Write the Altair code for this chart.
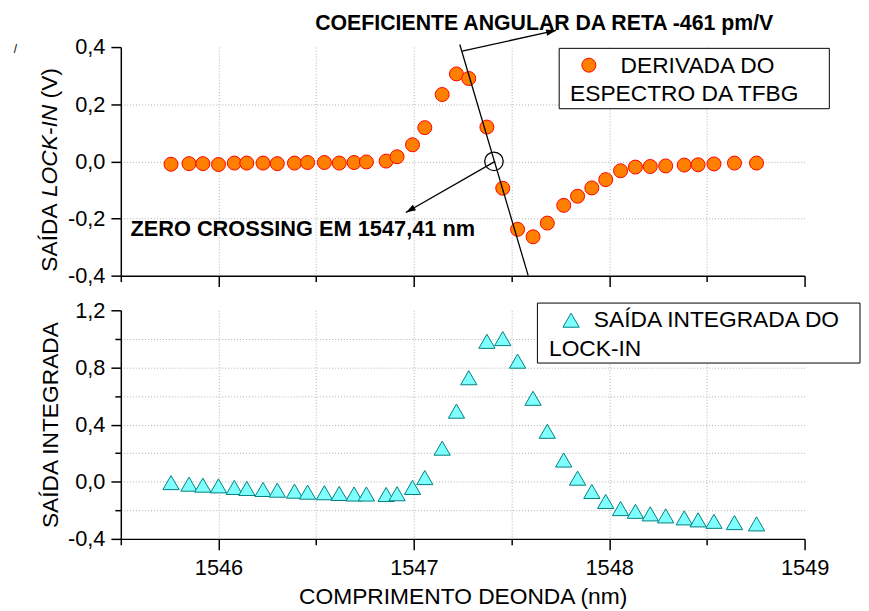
import altair as alt
import pandas as pd

FONT = "Liberation Sans"

# ---------------- data ----------------
wavelength_nm = [1545.757, 1545.849, 1545.920, 1546.000, 1546.081, 1546.145, 1546.228, 1546.301,
                 1546.389, 1546.456, 1546.542, 1546.618, 1546.694, 1546.757, 1546.858, 1546.914,
                 1546.993, 1547.056, 1547.145, 1547.218, 1547.281, 1547.374, 1547.455, 1547.531,
                 1547.610, 1547.683, 1547.767, 1547.838, 1547.911, 1547.982, 1548.058, 1548.134,
                 1548.210, 1548.289, 1548.384, 1548.455, 1548.536, 1548.641, 1548.754]
derivada_v = [-0.010, -0.008, -0.008, -0.011, -0.006, -0.006, -0.006, -0.008, -0.006, -0.004,
              -0.004, -0.006, -0.004, -0.002, 0.001, 0.016, 0.058, 0.118, 0.234, 0.306,
              0.290, 0.120, -0.094, -0.238, -0.264, -0.216, -0.154, -0.122, -0.093, -0.064,
              -0.033, -0.020, -0.018, -0.016, -0.013, -0.012, -0.009, -0.006, -0.006]
integrada = [-0.006, -0.017, -0.024, -0.029, -0.040, -0.047, -0.054, -0.059, -0.066, -0.073,
             -0.077, -0.082, -0.086, -0.086, -0.089, -0.084, -0.040, 0.029, 0.235, 0.494,
             0.728, 0.983, 1.002, 0.844, 0.584, 0.353, 0.152, 0.025, -0.068, -0.138,
             -0.188, -0.207, -0.225, -0.239, -0.253, -0.267, -0.277, -0.286, -0.295]

x_domain = [1545.5, 1549]
x_ticks = [1545.5, 1546, 1546.5, 1547, 1547.5, 1548, 1548.5, 1549]
y_domain_top = [-0.4, 0.4]
y_ticks_top = [-0.4, -0.3, -0.2, -0.1, 0.0, 0.1, 0.2, 0.3, 0.4]
y_domain_bottom = [-0.4, 1.2]
y_ticks_bottom = [-0.4, -0.2, 0.0, 0.2, 0.4, 0.6, 0.8, 1.0, 1.2]

# annotations (data coordinates)
zero_cross_nm = [1547.41]
zero_cross_v = [0.0]
tangent_nm = [1547.235, 1547.585]
tangent_v = [0.409, -0.399]
slope_arrow_nm = [1547.247, 1547.728]
slope_arrow_v = [0.386, 0.458]
zero_arrow_nm = [1547.416, 1546.959]
zero_arrow_v = [0.0, -0.179]
slope_label = "COEFICIENTE ANGULAR DA RETA -461 pm/V"
slope_label_pos = [1546.495, 0.461]
zero_label = "ZERO CROSSING EM 1547,41 nm"
zero_label_pos = [1545.549, -0.260]

legend_top_lines = ["DERIVADA DO", "ESPECTRO DA TFBG"]
legend_bottom_lines = ["SAÍDA INTEGRADA DO", "LOCK-IN"]
ytitle_top_parts = ["SAÍDA", "LOCK-IN", "(V)"]
x_title = "COMPRIMENTO DEONDA (nm)"
y_title_bottom = "SAÍDA INTEGRADA"

W, H = 691, 231
ARROW = "M0,0L-1,-0.32L-1,0.32Z"
one = pd.DataFrame({"k": [0]})

def fmt_expr(mod):
    return (f"abs(round(datum.value*10)) % {mod} == 0 ? "
            "(datum.value < -0.001 ? '-' : '') + replace(format(abs(datum.value), '.1f'), '.', ',') : ''")

x_scale = alt.Scale(domain=x_domain, nice=False, zero=False)

def x_axis(show_labels):
    kw = dict(values=x_ticks,
              tickSize={"condition": {"test": "datum.value % 1 == 0", "value": 11}, "value": 6},
              gridOpacity={"condition": {"test": "datum.value == 1545.5 || datum.value == 1549", "value": 0}, "value": 1},
              labelFlush=False, labelOverlap=False)
    if show_labels:
        return alt.Axis(labelExpr="datum.value % 1 == 0 ? format(datum.value, 'd') : ''",
                        title=x_title, labelPadding=8, titlePadding=7, **kw)
    return alt.Axis(labels=False, title=None, **kw)

# ---------------- top panel ----------------
df_top = pd.DataFrame({"nm": wavelength_nm, "v": derivada_v})
pts_top = alt.Chart(df_top).mark_point(shape="circle", filled=True, size=200, fill="#FF8000",
                                       stroke="#FF0000", strokeWidth=1, opacity=1).encode(
    x=alt.X("nm:Q", scale=x_scale, axis=x_axis(False)),
    y=alt.Y("v:Q", scale=alt.Scale(domain=y_domain_top, nice=False, zero=False),
            axis=alt.Axis(values=y_ticks_top, title=None, labelExpr=fmt_expr(2), labelPadding=6,
                          tickSize={"condition": {"test": "abs(round(datum.value*10)) % 2 == 0", "value": 10}, "value": 6},
                          gridOpacity={"condition": {"test": "abs(datum.value) > 0.35", "value": 0}, "value": 1})),
)

def seg(nm, v):
    return alt.Chart(pd.DataFrame({"nm": nm, "v": v, "o": [0, 1]})).mark_line(
        color="black", strokeWidth=1.3).encode(x="nm:Q", y="v:Q", order="o:Q")

tangent = seg(tangent_nm, tangent_v)
slope_arrow = seg(slope_arrow_nm, slope_arrow_v)
zero_arrow = seg(zero_arrow_nm, zero_arrow_v)

def head(nm, v, ang):
    return alt.Chart(pd.DataFrame({"nm": [nm], "v": [v]})).mark_point(
        shape=ARROW, filled=True, size=400, color="black", opacity=1, angle=ang, strokeWidth=0).encode(
        x="nm:Q", y="v:Q")

slope_head = head(slope_arrow_nm[1], slope_arrow_v[1], 347.7)
zero_head = head(zero_arrow_nm[1], zero_arrow_v[1], 150.2)

zero_circle = alt.Chart(pd.DataFrame({"nm": zero_cross_nm, "v": zero_cross_v})).mark_point(
    shape="circle", filled=False, size=350, color="black", strokeWidth=1.3, opacity=1).encode(
    x="nm:Q", y="v:Q")

def label(txt, pos, fs):
    return alt.Chart(pd.DataFrame({"nm": [pos[0]], "v": [pos[1]], "t": [txt]})).mark_text(
        font=FONT, fontSize=fs, fontWeight="bold", align="left", baseline="alphabetic", color="black").encode(
        x="nm:Q", y="v:Q", text="t:N")

slope_text = label(slope_label, slope_label_pos, 21.5)
zero_text = label(zero_label, zero_label_pos, 22)

leg_top_box = alt.Chart(one).mark_rect(fill="white", stroke="black", strokeWidth=1).encode(
    x=alt.value(443), x2=alt.value(716), y=alt.value(1.3), y2=alt.value(62.3))
leg_top_sym = alt.Chart(one).mark_point(shape="circle", filled=True, size=200, fill="#FF8000",
                                        stroke="#FF0000", strokeWidth=1, opacity=1).encode(
    x=alt.value(473), y=alt.value(18.3))
leg_top_t1 = alt.Chart(pd.DataFrame({"t": [legend_top_lines[0]]})).mark_text(
    font=FONT, fontSize=23, align="left", baseline="alphabetic", color="black").encode(
    x=alt.value(505), y=alt.value(25.7), text="t:N")
leg_top_t2 = alt.Chart(pd.DataFrame({"t": [legend_top_lines[1]]})).mark_text(
    font=FONT, fontSize=23, align="left", baseline="alphabetic", color="black").encode(
    x=alt.value(454), y=alt.value(54.7), text="t:N")

title_pieces = []
for txt, style, ypos in zip(ytitle_top_parts, ["normal", "italic", "normal"], [227, 151.6, 51.9]):
    title_pieces.append(alt.Chart(pd.DataFrame({"t": [txt]})).mark_text(
        font=FONT, fontSize=23, fontStyle=style, angle=270, align="left", baseline="middle",
        color="black").encode(x=alt.value(-71), y=alt.value(ypos), text="t:N"))

stray = alt.Chart(pd.DataFrame({"t": ["/"]})).mark_text(
    font=FONT, fontSize=12, align="center", baseline="middle", color="black").encode(
    x=alt.value(-106.5), y=alt.value(1.5), text="t:N")

top = alt.layer(pts_top, tangent, slope_arrow, zero_arrow, slope_head, zero_head, zero_circle,
                slope_text, zero_text, leg_top_box, leg_top_sym, leg_top_t1, leg_top_t2,
                *title_pieces, stray).properties(width=W, height=H)

# ---------------- bottom panel ----------------
df_bot = pd.DataFrame({"nm": wavelength_nm, "v": integrada})
pts_bot = alt.Chart(df_bot).mark_point(shape="triangle-up", filled=True, size=270, fill="#80FFFF",
                                       stroke="#008080", strokeWidth=1, opacity=1).encode(
    x=alt.X("nm:Q", scale=x_scale, axis=x_axis(True)),
    y=alt.Y("v:Q", scale=alt.Scale(domain=y_domain_bottom, nice=False, zero=False),
            axis=alt.Axis(values=y_ticks_bottom, title=y_title_bottom, labelExpr=fmt_expr(4),
                          labelPadding=6, titlePadding=5,
                          tickSize={"condition": {"test": "abs(round(datum.value*10)) % 4 == 0", "value": 10}, "value": 6},
                          gridOpacity={"condition": {"test": "datum.value < -0.35 || datum.value > 1.15", "value": 0}, "value": 1})),
)
leg_bot_box = alt.Chart(one).mark_rect(fill="white", stroke="black", strokeWidth=1).encode(
    x=alt.value(421), x2=alt.value(747), y=alt.value(-7.3), y2=alt.value(53.3))
leg_bot_sym = alt.Chart(one).mark_point(shape="triangle-up", filled=True, size=270, fill="#80FFFF",
                                        stroke="#008080", strokeWidth=1, opacity=1).encode(
    x=alt.value(455), y=alt.value(10))
leg_bot_t1 = alt.Chart(pd.DataFrame({"t": [legend_bottom_lines[0]]})).mark_text(
    font=FONT, fontSize=23, align="left", baseline="alphabetic", color="black").encode(
    x=alt.value(478), y=alt.value(16.7), text="t:N")
leg_bot_t2 = alt.Chart(pd.DataFrame({"t": [legend_bottom_lines[1]]})).mark_text(
    font=FONT, fontSize=23, align="left", baseline="alphabetic", color="black").encode(
    x=alt.value(432.7), y=alt.value(46), text="t:N")

bottom = alt.layer(pts_bot, leg_bot_box, leg_bot_sym, leg_bot_t1, leg_bot_t2).properties(width=W, height=H)

chart = alt.vconcat(top, bottom, spacing=12).properties(
    padding={"left": 5, "top": 1.3, "right": 0, "bottom": 0}
).configure_view(stroke=None).configure_axis(
    domainColor="black", domainWidth=1.5, tickColor="black", tickWidth=1.5,
    gridColor="#b0b0b0", gridDash=[1, 2], gridWidth=1,
    labelFont=FONT, labelFontSize=22, labelColor="black",
    titleFont=FONT, titleFontSize=23, titleFontWeight="normal", titleColor="black",
)

chart.save("out.html", embed_options={"renderer": "svg", "actions": False})
